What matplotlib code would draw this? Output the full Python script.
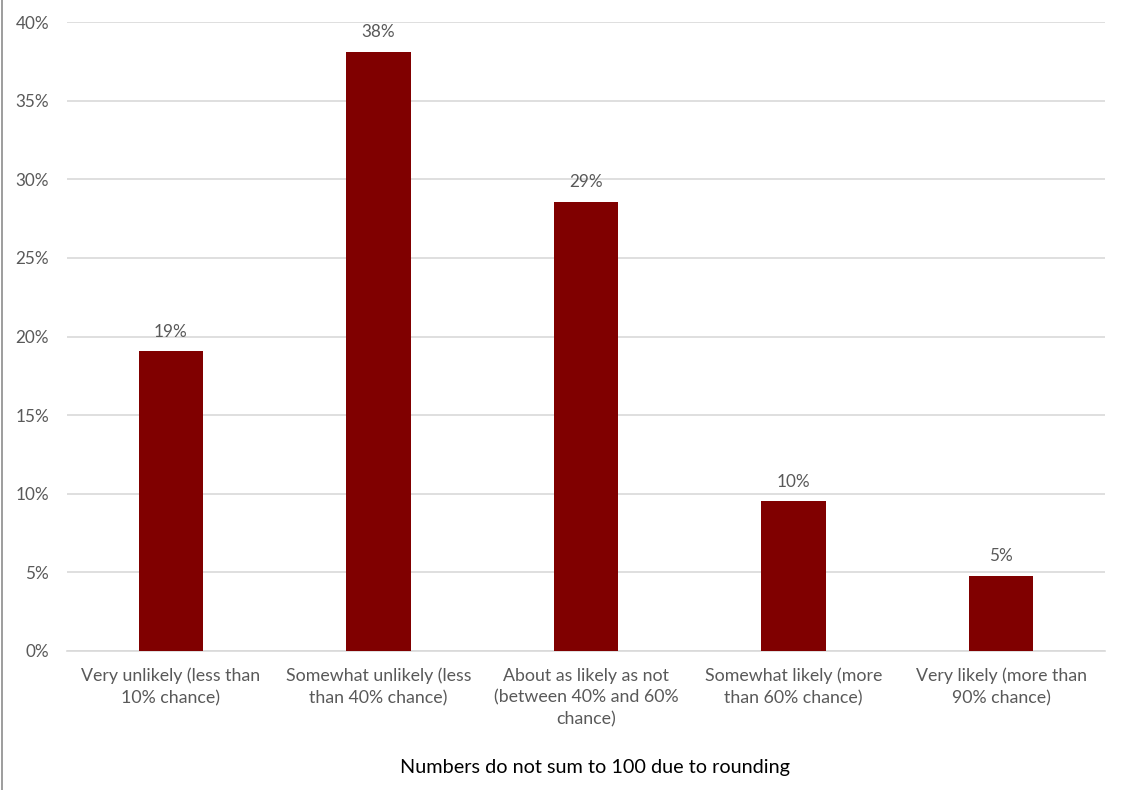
import matplotlib.pyplot as plt
from matplotlib.lines import Line2D

categories = ["Very unlikely (less than\n10% chance)",
              "Somewhat unlikely (less\nthan 40% chance)",
              "About as likely as not\n(between 40% and 60%\nchance)",
              "Somewhat likely (more\nthan 60% chance)",
              "Very likely (more than\n90% chance)"]
values = [19.05, 38.10, 28.57, 9.52, 4.76]
labels = ["19%", "38%", "29%", "10%", "5%"]

plt.rcParams['font.family'] = ['Lato', 'DejaVu Sans']
grey = '#595959'

fig = plt.figure(figsize=(11.27, 7.9), dpi=100)
ax = fig.add_axes([0.0595, 0.176, 0.921, 0.796])

x = range(len(values))
ax.bar(x, values, width=0.31, color='#800000', zorder=3)
for i, v in enumerate(values):
    ax.text(i, v + 0.75, labels[i], ha='center', va='bottom', fontsize=12.3, color=grey)

ax.set_xlim(-0.5, 4.5)
ax.set_ylim(0, 40)
ax.set_yticks(range(0, 41, 5))
ax.set_yticklabels([f"{t}%" for t in range(0, 41, 5)], fontsize=12.3)
ax.set_xticks(list(x))
ax.set_xticklabels(categories, fontsize=12.8, linespacing=1.45)
ax.grid(axis='y', color='#d9d9d9', linewidth=1.2, zorder=0)
for s in ['top', 'right', 'left']:
    ax.spines[s].set_visible(False)
ax.spines['bottom'].set_color('#d9d9d9')
ax.spines['bottom'].set_linewidth(1.2)
ax.tick_params(axis='both', length=0, labelcolor=grey)
ax.tick_params(axis='x', pad=12)
ax.tick_params(axis='y', pad=13)

fig.text(0.528, 0.029, "Numbers do not sum to 100 due to rounding",
         ha='center', va='center', fontsize=14.3, color='black')
fig.add_artist(Line2D([0.002, 0.002], [0, 1], transform=fig.transFigure,
                      color='#8c8c8c', linewidth=1.2))

fig.savefig("out.png", dpi=100)
